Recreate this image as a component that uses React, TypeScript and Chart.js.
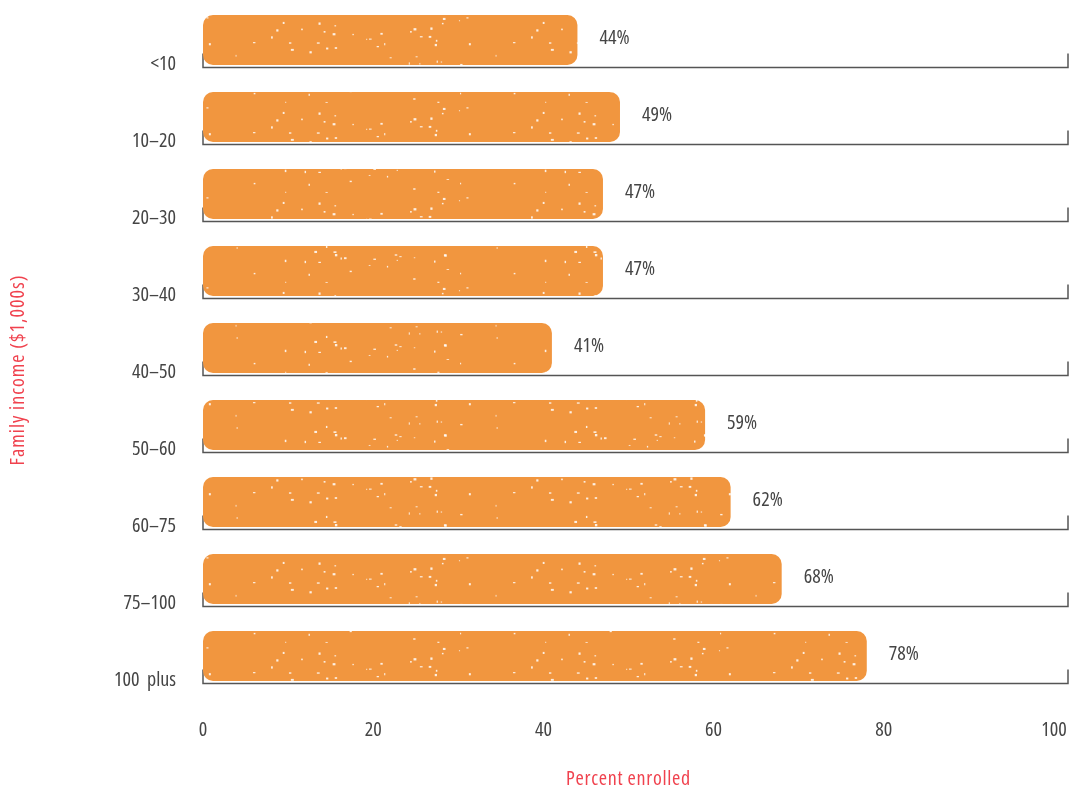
import { useEffect, useRef } from 'react';
import { Chart, registerables } from 'chart.js';

Chart.register(...registerables);

const categories = ['<10', '10–20', '20–30', '30–40', '40–50', '50–60', '60–75', '75–100', '100  plus'];
const enrolled = [44, 49, 47, 47, 41, 59, 62, 68, 78];
const xTickValues = [0, 20, 40, 60, 80, 100];
const xTitle = 'Percent enrolled';
const yTitle = 'Family income ($1,000s)';

const ORANGE = '#f1963f';
const TEXT = '#454545';
const RED = '#f0424e';
const FAMILY = "'Open Sans', 'DejaVu Sans', sans-serif";
const FONT_SIZE = 20;
const CSS_FONT = `normal 500 condensed ${FONT_SIZE}px ${FAMILY}`;

function makeTexture(): CanvasPattern | string {
  const c = document.createElement('canvas');
  c.width = 260;
  c.height = 90;
  const g = c.getContext('2d');
  if (!g) return ORANGE;
  g.fillStyle = ORANGE;
  g.fillRect(0, 0, c.width, c.height);
  let s = 12345;
  const rnd = () => {
    s = (s * 1103515245 + 12345) & 0x7fffffff;
    return s / 0x7fffffff;
  };
  g.fillStyle = 'rgba(255,255,255,0.85)';
  for (let i = 0; i < 70; i++) {
    const x = rnd() * c.width;
    const y = rnd() * c.height;
    const w = 0.8 + rnd() * 2.2;
    const h = 0.8 + rnd() * 1.6;
    g.fillRect(x, y, w, h);
  }
  const pat = g.createPattern(c, 'repeat');
  return pat || ORANGE;
}

const bracketPlugin = {
  id: 'brackets',
  beforeDatasetsDraw(chart: any) {
    const { ctx, scales, chartArea } = chart;
    const x = scales.x;
    const y = scales.y;
    const x0 = x.getPixelForValue(0);
    const x1 = chartArea.right + 14;
    ctx.save();
    ctx.strokeStyle = '#555555';
    ctx.lineWidth = 1.5;
    categories.forEach((_, i) => {
      const yb = Math.round(y.getPixelForValue(i) + 27) + 0.5;
      ctx.beginPath();
      ctx.moveTo(x0, yb - 14);
      ctx.lineTo(x0, yb);
      ctx.lineTo(x1, yb);
      ctx.lineTo(x1, yb - 14);
      ctx.stroke();
    });
    ctx.restore();
  },
};

const valueLabelPlugin = {
  id: 'valueLabels',
  afterDatasetsDraw(chart: any) {
    const { ctx } = chart;
    const meta = chart.getDatasetMeta(0);
    ctx.save();
    ctx.font = CSS_FONT;
    ctx.fillStyle = TEXT;
    ctx.textAlign = 'left';
    ctx.textBaseline = 'middle';
    meta.data.forEach((bar: any, i: number) => {
      ctx.fillText(`${enrolled[i]}%`, bar.x + 22, bar.y - 2);
    });
    ctx.restore();
  },
};

const axisTitlePlugin = {
  id: 'axisTitles',
  afterDraw(chart: any) {
    const { ctx, chartArea } = chart;
    ctx.save();
    ctx.font = CSS_FONT;
    ctx.fillStyle = RED;
    ctx.textAlign = 'center';
    ctx.textBaseline = 'middle';
    try {
      (ctx as any).letterSpacing = '0.7px';
    } catch (e) {}
    ctx.fillText(xTitle, (chartArea.left + chartArea.right) / 2, 779);
    ctx.translate(18, 370);
    ctx.rotate(-Math.PI / 2);
    try {
      (ctx as any).letterSpacing = '1px';
    } catch (e) {}
    ctx.fillText(yTitle, 0, 0);
    ctx.restore();
  },
};

export default function App() {
  const ref = useRef<HTMLCanvasElement | null>(null);

  useEffect(() => {
    if (!ref.current) return;
    const texture = makeTexture();
    const tickFont = { family: FAMILY, size: FONT_SIZE, weight: '500 condensed' as any };
    const chart = new Chart(ref.current, {
      type: 'bar',
      data: {
        labels: categories,
        datasets: [
          {
            data: enrolled,
            backgroundColor: texture as any,
            borderWidth: 0,
            borderRadius: 10,
            borderSkipped: false,
            categoryPercentage: 1,
            barPercentage: 0.65,
          },
        ],
      },
      options: {
        indexAxis: 'y',
        animation: false,
        responsive: true,
        maintainAspectRatio: false,
        layout: { padding: { top: 1.5, right: 17, left: 0, bottom: 0 } },
        plugins: {
          legend: { display: false },
          tooltip: { enabled: false },
        },
        scales: {
          x: {
            type: 'linear',
            min: 0,
            max: 100,
            afterFit(scale: any) {
              scale.height = 94.5;
              scale.paddingLeft = 0;
              scale.paddingRight = 0;
              scale.paddingTop = 0;
              scale.paddingBottom = 0;
            },
            afterBuildTicks(scale: any) {
              scale.ticks = xTickValues.map((v) => ({ value: v }));
            },
            grid: { display: false, drawTicks: false },
            border: { display: false },
            ticks: {
              color: TEXT,
              font: tickFont,
              padding: 24,
            },
          },
          y: {
            type: 'category',
            afterFit(scale: any) {
              scale.width = 203;
              scale.paddingLeft = 0;
              scale.paddingRight = 0;
              scale.paddingTop = 0;
              scale.paddingBottom = 0;
            },
            grid: { display: false, drawTicks: false },
            border: { display: false },
            ticks: {
              color: TEXT,
              font: tickFont,
              padding: 27,
              labelOffset: 24,
            },
          },
        },
      },
      plugins: [bracketPlugin, valueLabelPlugin, axisTitlePlugin],
    });
    return () => chart.destroy();
  }, []);

  return (
    <div style={{ position: 'absolute', left: 0, top: 0, width: 1071, height: 789 }}>
      <canvas ref={ref} />
    </div>
  );
}
